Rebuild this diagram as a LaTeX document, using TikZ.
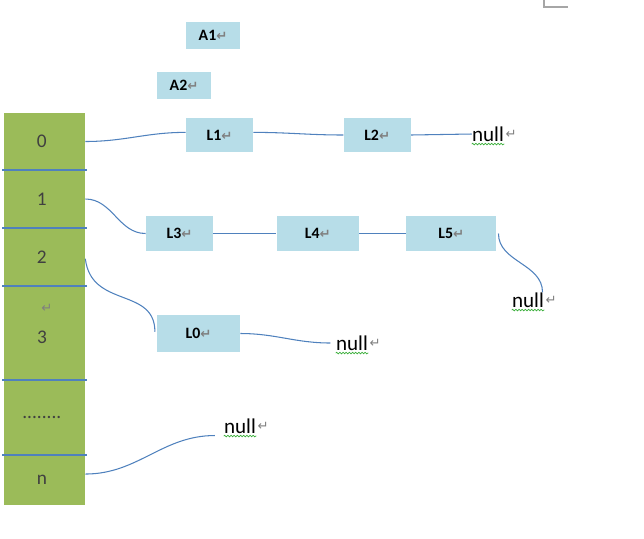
\documentclass[tikz,border=0pt]{standalone}
\usepackage{fontspec}
\setmainfont{Carlito}
\newfontfamily\symfont{DejaVu Sans}
\usetikzlibrary{positioning,decorations.pathmorphing}
\definecolor{slotgreen}{HTML}{9BBB59}
\definecolor{boxblue}{HTML}{B7DDE8}
\definecolor{linkblue}{HTML}{4F81BD}
\definecolor{digitgray}{HTML}{404040}
\definecolor{markgray}{HTML}{808080}
\definecolor{spellgreen}{HTML}{3BAF3B}
\newcommand{\pmark}{{\symfont\fontsize{7.5}{7.5}\selectfont\color{markgray}↵}}
\tikzset{
  list node/.style={
    fill=boxblue,
    minimum height=0.68cm,
    inner sep=0pt,
    font=\fontsize{9}{10}\selectfont\bfseries,
  },
  slot node/.style={
    fill=slotgreen,
    minimum width=1.62cm,
    inner sep=0pt,
    text=digitgray,
    font=\fontsize{11}{12}\selectfont,
  },
  null label/.style={
    inner sep=0pt,
    font=\fontsize{12}{13}\selectfont,
    label={[inner sep=0.6pt]right:\pmark},
  },
  link/.style={
    linkblue,
    line width=0.6pt,
  },
  divider/.style={
    linkblue,
    line width=0.7pt,
  },
  spell/.style={
    spellgreen,
    line width=0.4pt,
    decorate,
    decoration={snake, amplitude=0.45pt, segment length=1.8pt},
  },
}

\begin{document}
\begin{tikzpicture}[x=0.02cm, y=-0.02cm]
  \useasboundingbox (0,0) rectangle (644,538);

  % --- Bucket column ---
  \node[slot node, minimum height=1.14cm] (s0) at (44.5,141.5) {0\kern3pt};
  \node[slot node, minimum height=1.16cm] (s1) at (44.5,199) {1\kern3pt};
  \node[slot node, minimum height=1.16cm] (s2) at (44.5,257) {2\kern3pt};
  \node[slot node, minimum height=1.88cm] (s3) at (44.5,333) {};
  \node[slot node, minimum height=1.5cm] (sd) at (44.5,417.5) {........\kern3pt};
  \node[slot node, minimum height=1.0cm] (sn) at (44.5,480) {n\kern3pt};
  \node[inner sep=0pt, text=digitgray, font=\fontsize{11}{12}\selectfont] (s3t) at (42,337) {3};
  \node[inner sep=0pt] (s3m) at (47,308) {\pmark};

  \foreach \y in {170,228,286,380,455} {
    \draw[divider] (2,\y) -- (87,\y);
  }

  % --- Free entries ---
  \node[list node, minimum width=1.08cm, minimum height=0.54cm] (A1) at (213,35.5) {A1\pmark};
  \node[list node, minimum width=1.08cm, minimum height=0.54cm] (A2) at (184,85.5) {A2\pmark};

  % --- Chain of slot 0 ---
  \node[list node, minimum width=1.34cm] (L1) at (219.5,135) {L1\pmark};
  \node[list node, minimum width=1.34cm, right=1.8cm of L1] (L2) {L2\pmark};
  \node[null label] (n1) at (488,134) {null};

  % --- Chain of slot 1 ---
  \node[list node, minimum width=1.34cm, minimum height=0.7cm] (L3) at (179.5,233.5) {L3\pmark};
  \node[list node, minimum width=1.64cm, minimum height=0.7cm, right=1.26cm of L3] (L4) {L4\pmark};
  \node[list node, minimum width=1.8cm, minimum height=0.7cm, right=0.94cm of L4] (L5) {L5\pmark};
  \node[null label] (n2) at (528,300) {null};

  % --- Chain of slot 2 ---
  \node[list node, minimum width=1.66cm, minimum height=0.74cm] (L0) at (198.5,333.5) {L0\pmark};
  \node[null label] (n3) at (352,343) {null};

  % --- End of slot n ---
  \node[null label] (n4) at (240,426) {null};

  % --- Links ---
  \draw[link] (s0.east) to[out=0, in=180] ([yshift=1.5pt]L1.west);
  \draw[link] ([yshift=1.5pt]L1.east) to[out=0, in=180] (L2.west);
  \draw[link] (L2.east) -- (n1.west);
  \draw[link] (s1.east) to[out=0, in=180] (L3.west);
  \draw[link] (L3.east) -- (L4.west);
  \draw[link] (L4.east) -- (L5.west);
  \draw[link] ([xshift=1pt]L5.east) to[out=-90, in=90] ([xshift=-1pt]n2.north east);
  \draw[link] ([yshift=-1pt]s2.east) .. controls +(6,50) and +(0,-45) .. ([xshift=-1pt,yshift=1pt]L0.west);
  \draw[link] (L0.east) to[out=0, in=180] ([xshift=-3pt]n3.west);
  \draw[link] ([yshift=3.4pt]sn.east) to[out=0, in=180] ([xshift=-5pt,yshift=-1pt]n4.south west);

  % --- Spelling marks ---
  \foreach \n in {n1,n2,n3,n4} {
    \draw[spell] ([yshift=-1.3pt]\n.south west) -- ([yshift=-1.3pt]\n.south east);
  }

  % --- Page corner ---
  \draw[gray!70, line width=0.6pt] (544,0) -- (544,7) -- (568,7);
\end{tikzpicture}
\end{document}
